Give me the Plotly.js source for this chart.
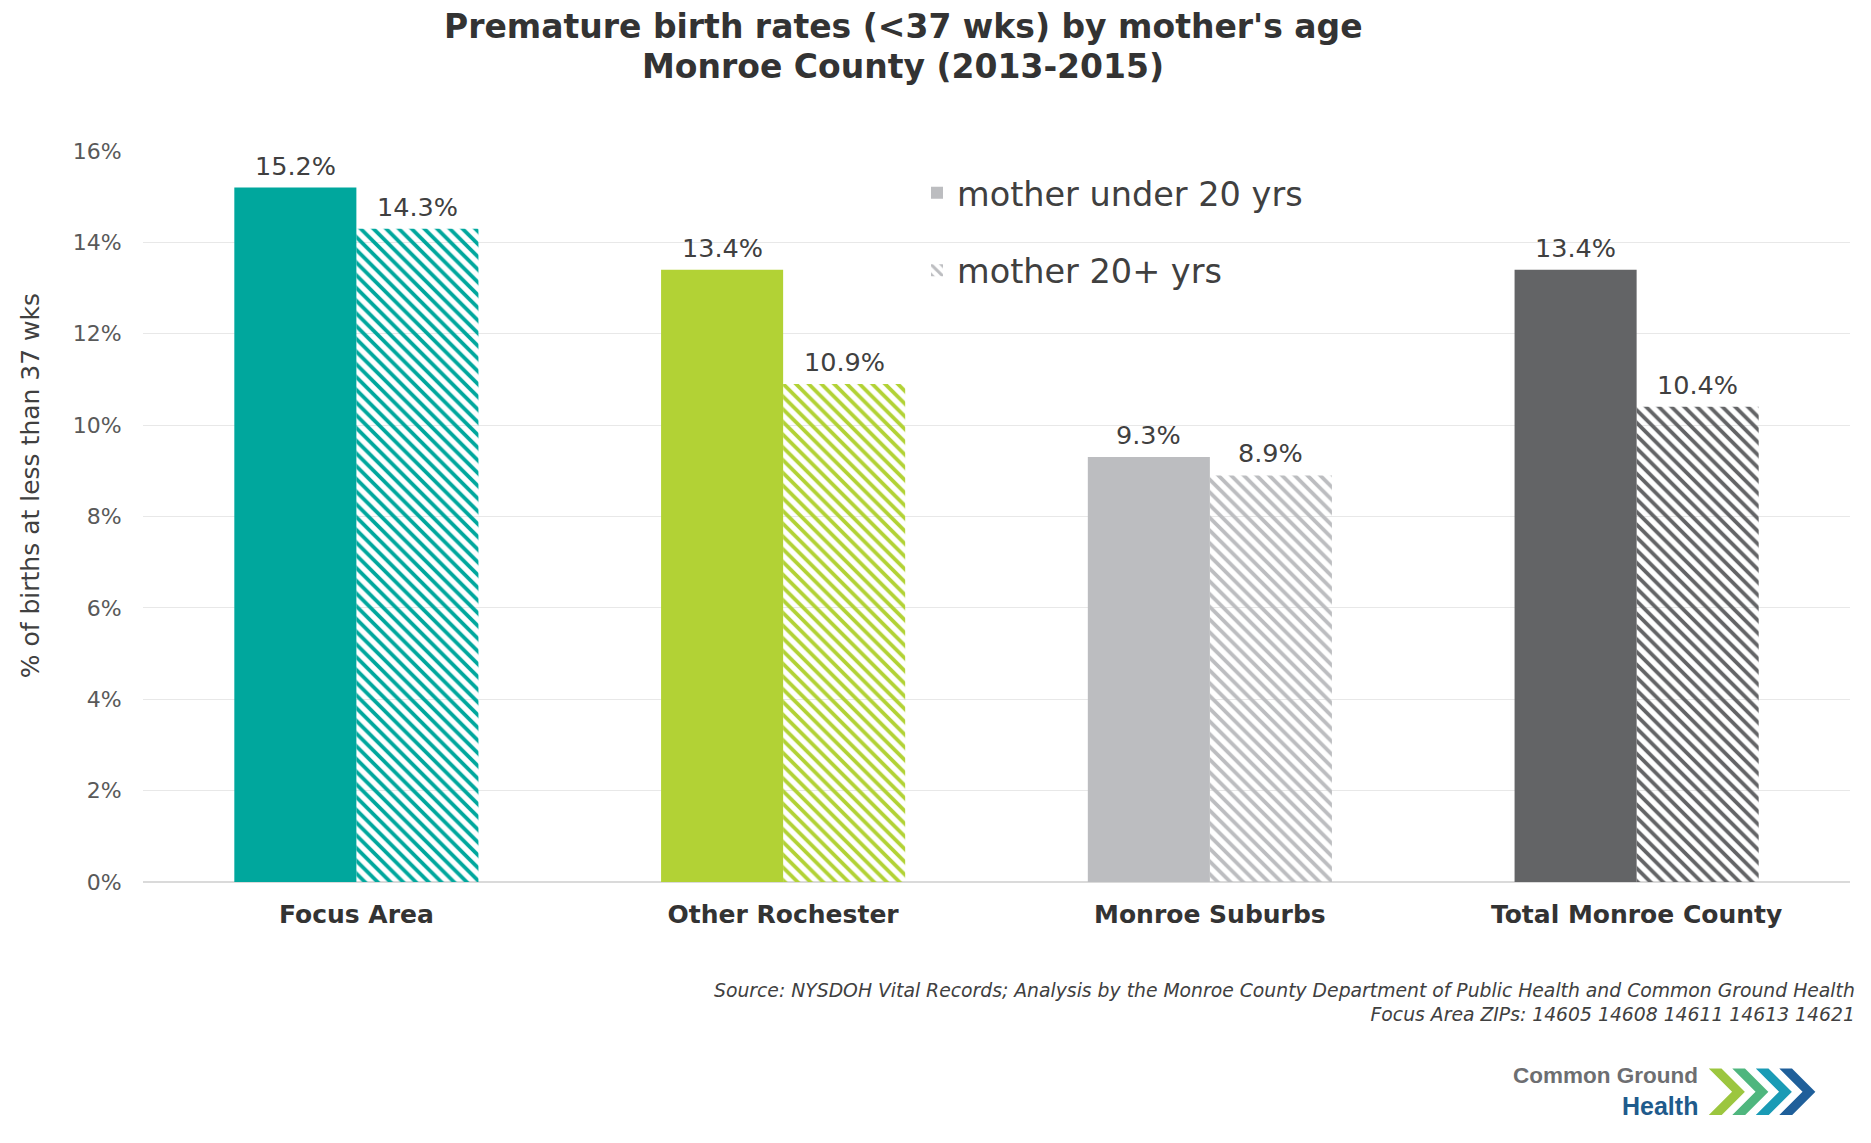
<!DOCTYPE html>
<html>
<head>
<meta charset="utf-8">
<script src="https://cdn.plot.ly/plotly-3.0.1.min.js"></script>
<style>
  html, body { margin: 0; padding: 0; background: #ffffff; }
  #chart { width: 1871px; height: 1143px; }
</style>
</head>
<body>
<div id="chart"></div>
<script>
// ---- data ----
const categories = ['Focus Area', 'Other Rochester', 'Monroe Suburbs', 'Total Monroe County'];
const seriesNames = ['mother under 20 yrs', 'mother 20+ yrs'];
const under20 = [15.2, 13.4, 9.3, 13.4];
const over20 = [14.3, 10.9, 8.9, 10.4];
const categoryColors = ['#00A79D', '#B2D235', '#BCBDC0', '#636466'];
const legendColor = '#BCBDC0';
const yTickVals = [0, 2, 4, 6, 8, 10, 12, 14, 16];
const yTickText = ['0%', '2%', '4%', '6%', '8%', '10%', '12%', '14%', '16%'];
const titleLines = ['Premature birth rates (&lt;37 wks) by mother\'s age', 'Monroe County (2013-2015)'];
const yTitleText = '% of births at less than 37 wks';
const sourceText = 'Source: NYSDOH Vital Records; Analysis by the Monroe County Department of Public Health and Common Ground Health<br>Focus Area ZIPs: 14605 14608 14611 14613 14621';
const logoColors = ['#9cc63f', '#4fb67e', '#1a9bb5', '#1f5f9a'];

// ---- layout geometry ----
const W = 1871, H = 1143;
const M = { l: 143, r: 21, t: 150.5, b: 261 };
const px2x = p => (p - M.l) / (W - M.l - M.r);
const py2y = p => (H - M.b - p) / (H - M.b - M.t);

const FONT = 'DejaVu Sans, Verdana, sans-serif';
const LOGOFONT = 'Liberation Sans Narrow, Liberation Sans, sans-serif';
const hatch = (c) => ({ shape: '\\', fillmode: 'replace', bgcolor: '#ffffff', fgcolor: c, size: 9, solidity: 0.42 });

const fmt = v => v.toFixed(1) + '%';

const traces = [
  {
    type: 'bar', name: seriesNames[0], x: categories, y: under20,
    marker: { color: categoryColors, line: { width: 0 } },
    showlegend: false, hovertemplate: '%{x}: %{y:.1f}%<extra></extra>'
  },
  {
    type: 'bar', name: seriesNames[1], x: categories, y: over20,
    marker: { color: categoryColors, line: { width: 0 }, pattern: hatch(categoryColors) },
    showlegend: false, hovertemplate: '%{x}: %{y:.1f}%<extra></extra>'
  },
  // legend-only swatches (neutral grey)
  {
    type: 'bar', name: seriesNames[0], x: [categories[0]], y: [null], xaxis: 'x2', yaxis: 'y2',
    marker: { color: legendColor, line: { width: 0 } }, legendgroup: 'g1', hoverinfo: 'skip'
  },
  {
    type: 'bar', name: seriesNames[1], x: [categories[0]], y: [null], xaxis: 'x2', yaxis: 'y2',
    marker: { color: legendColor, line: { width: 0 }, pattern: hatch(legendColor) }, legendgroup: 'g2', hoverinfo: 'skip'
  }
];

const LABELFONT = { family: FONT, size: 25.5, color: '#404040' };
const annotations = [];
categories.forEach((c, i) => {
  annotations.push({ x: c, y: under20[i], xref: 'x', yref: 'y', text: fmt(under20[i]), showarrow: false,
    xshift: -61, yshift: 5, yanchor: 'bottom', font: LABELFONT });
  annotations.push({ x: c, y: over20[i], xref: 'x', yref: 'y', text: fmt(over20[i]), showarrow: false,
    xshift: 61, yshift: 5, yanchor: 'bottom', font: LABELFONT });
});
// title (two lines)
[26, 66].forEach((yc, k) => {
  annotations.push({
    xref: 'paper', yref: 'paper', x: px2x(903), y: py2y(yc), text: titleLines[k], align: 'center',
    showarrow: false, xanchor: 'center', yanchor: 'middle', borderpad: 0,
    font: { family: FONT, size: 33, weight: 'bold', color: '#333333' }
  });
});
// y axis title
annotations.push({
  xref: 'paper', yref: 'paper', x: px2x(30), y: py2y(486), text: yTitleText, textangle: -90,
  showarrow: false, xanchor: 'center', yanchor: 'middle', font: { family: FONT, size: 25, color: '#404040' }
});
// source
annotations.push({
  xref: 'paper', yref: 'paper', x: px2x(1857), y: py2y(1003), text: sourceText, align: 'right',
  showarrow: false, xanchor: 'right', yanchor: 'middle', font: { family: FONT, size: 18.8, color: '#404040', style: 'italic' }
});
// logo text
annotations.push({
  xref: 'paper', yref: 'paper', x: px2x(1699), y: py2y(1076), text: 'Common Ground', borderpad: 0,
  showarrow: false, xanchor: 'right', yanchor: 'middle',
  font: { family: LOGOFONT, size: 22.5, weight: 'bold', color: '#6d6e71' }
});
annotations.push({
  xref: 'paper', yref: 'paper', x: px2x(1699), y: py2y(1106), text: 'Health', borderpad: 0,
  showarrow: false, xanchor: 'right', yanchor: 'middle',
  font: { family: LOGOFONT, size: 25, weight: 'bold', color: '#1f5b8c' }
});

// logo chevrons (decoration)
const shapes = [];
const chevTop = 1068, chevH = 48, chevT = 15, chevStep = 23.5, chevX0 = 1707;
logoColors.forEach((col, k) => {
  const x0 = chevX0 + k * chevStep;
  const pts = [
    [x0, chevTop], [x0 + chevT, chevTop], [x0 + chevT + chevH / 2, chevTop + chevH / 2],
    [x0 + chevT, chevTop + chevH], [x0, chevTop + chevH], [x0 + chevH / 2, chevTop + chevH / 2]
  ];
  const path = 'M' + pts.map(p => px2x(p[0]) + ',' + py2y(p[1])).join(' L') + ' Z';
  shapes.push({ type: 'path', xref: 'paper', yref: 'paper', path: path, fillcolor: col,
    line: { color: '#ffffff', width: 1.5 } });
});

const layout = {
  width: W, height: H,
  margin: { l: M.l, r: M.r, t: M.t, b: M.b, autoexpand: false },
  paper_bgcolor: '#ffffff', plot_bgcolor: '#ffffff',
  font: { family: FONT, color: '#404040' },
  barmode: 'group', bargap: 0.428, bargroupgap: 0,
  xaxis: {
    type: 'category', categoryorder: 'array', categoryarray: categories,
    showgrid: false, showline: false, zeroline: false,
    ticks: 'outside', ticklen: 10, tickcolor: 'rgba(0,0,0,0)',
    tickfont: { family: FONT, size: 25, weight: 'bold', color: '#333333' }, automargin: false
  },
  yaxis: {
    range: [0, 16], tickvals: yTickVals, ticktext: yTickText,
    showgrid: true, gridcolor: '#e8e8e8', gridwidth: 1,
    zeroline: true, zerolinecolor: '#dadada', zerolinewidth: 1.5, showline: false,
    ticks: 'outside', ticklen: 16, tickcolor: 'rgba(0,0,0,0)',
    tickfont: { family: FONT, size: 22, color: '#595959' }, automargin: false
  },
  xaxis2: { overlaying: 'x', visible: false, type: 'category' },
  yaxis2: { overlaying: 'y', visible: false, range: [0, 16] },
  showlegend: true,
  legend: {
    x: px2x(917), xanchor: 'left', y: py2y(164), yanchor: 'top',
    bgcolor: 'rgba(0,0,0,0)', borderwidth: 0, itemwidth: 30,
    tracegroupgap: 31, traceorder: 'grouped',
    font: { family: FONT, size: 33.5, color: '#404040' }
  },
  annotations: annotations,
  shapes: shapes
};

Plotly.newPlot('chart', traces, layout, { displayModeBar: false, responsive: false });
</script>
</body>
</html>
